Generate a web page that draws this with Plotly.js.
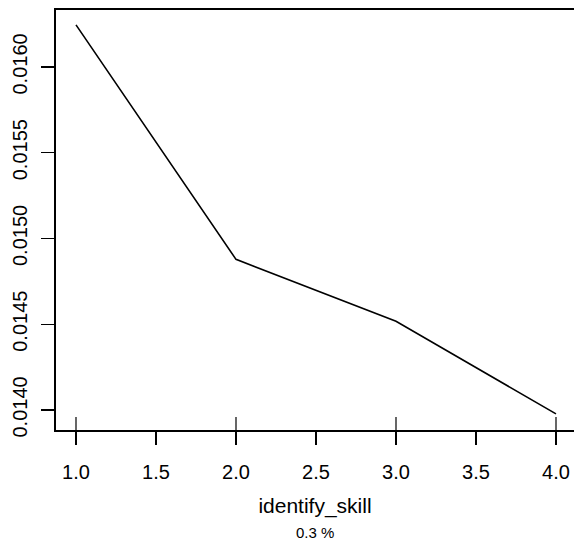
<!DOCTYPE html>
<html>
<head>
<meta charset="utf-8">
<script src="https://cdn.plot.ly/plotly-3.0.1.min.js"></script>
<style>html,body{margin:0;padding:0;background:#fff;}#plot{width:574px;height:545px;}</style>
</head>
<body>
<div id="plot"></div>
<script>
const xValues = [1.0, 2.0, 3.0, 4.0];
const yValues = [0.016245, 0.014878, 0.014517, 0.013977];
const xTicks = [1.0, 1.5, 2.0, 2.5, 3.0, 3.5, 4.0];
const yTicks = [0.0140, 0.0145, 0.0150, 0.0155, 0.0160];
const xTitle = 'identify_skill';
const subTitle = '0.3 %';

const font = {family: 'Liberation Sans, Arial, sans-serif', size: 20, color: '#000'};

const trace = {
  x: xValues, y: yValues, type: 'scatter', mode: 'lines',
  line: {color: '#000', width: 1.6}, hoverinfo: 'skip', showlegend: false
};

const rug = xValues.map(v => ({
  type: 'line', xref: 'x', yref: 'paper', x0: v, x1: v, y0: 0, y1: 13/420,
  line: {color: '#000', width: 1.2}
}));

const layout = {
  width: 574, height: 545,
  margin: {l: 56, r: 0, t: 10, b: 115},
  paper_bgcolor: '#fff', plot_bgcolor: '#fff',
  font: font,
  xaxis: {
    range: [0.875, 0.875 + 518/160],
    tickvals: xTicks, ticktext: xTicks.map(v => v.toFixed(1)),
    ticks: 'outside', ticklen: 13, tickwidth: 1.2, tickcolor: '#000',
    showline: true, linecolor: '#000', linewidth: 1.6, mirror: true,
    showgrid: false, zeroline: false,
    tickfont: font, ticklabelstandoff: 10,
    title: {text: xTitle, font: {family: font.family, size: 21, color: '#000'}, standoff: 17}
  },
  yaxis: {
    range: [0.013883, 0.016332],
    tickvals: yTicks, ticktext: yTicks.map(v => v.toFixed(4)),
    ticks: 'outside', ticklen: 13, tickwidth: 1.2, tickcolor: '#000',
    showline: true, linecolor: '#000', linewidth: 1.6, mirror: false,
    showgrid: false, zeroline: false,
    tickangle: -90, tickfont: font, ticklabelstandoff: 6
  },
  shapes: rug,
  annotations: [{
    text: subTitle, xref: 'paper', yref: 'paper', x: 0.5, y: -(532-430)/420,
    xanchor: 'center', yanchor: 'middle', showarrow: false,
    font: {family: font.family, size: 15, color: '#000'}
  }]
};

Plotly.newPlot('plot', [trace], layout, {staticPlot: true, displayModeBar: false});
</script>
</body>
</html>
